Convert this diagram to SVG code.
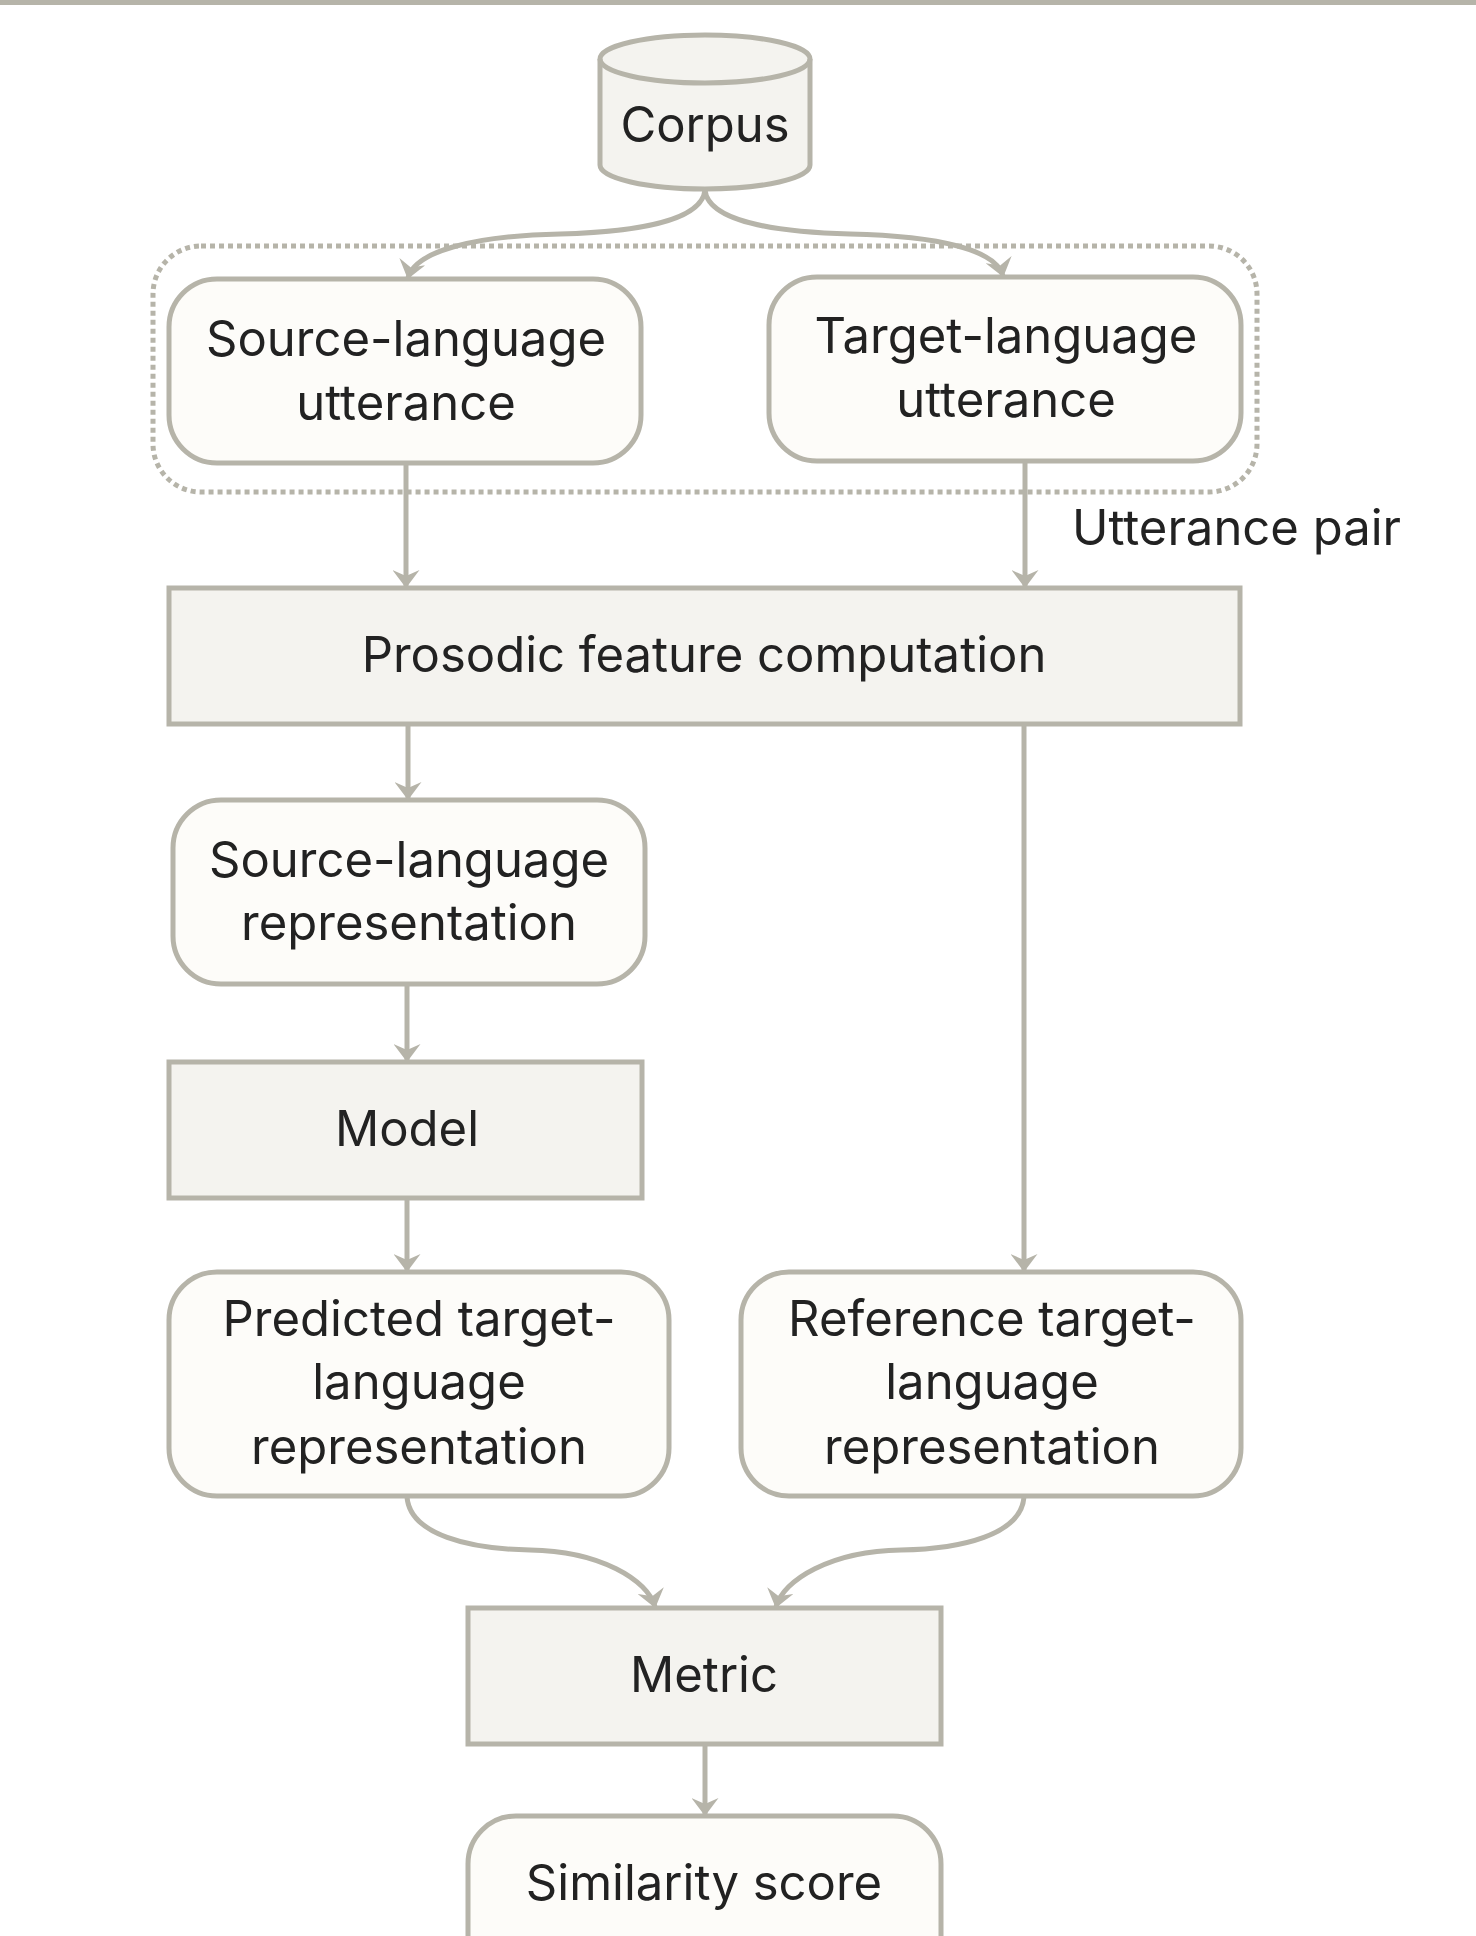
<svg xmlns="http://www.w3.org/2000/svg" width="1476" height="1936" viewBox="0 0 1476 1936">
<defs>
<style>
.box{fill:#f4f3ef;stroke:#b6b4a9;stroke-width:5}
.rbox{fill:#fdfcf9;stroke:#b6b4a9;stroke-width:5}
.edge{fill:none;stroke:#b6b4a9;stroke-width:5;marker-end:url(#arr)}
.grp{fill:none;stroke:#b6b4a9;stroke-width:5;stroke-dasharray:5 4}
text{font-family:Inter,"Noto Sans","Liberation Sans",sans-serif;font-size:49px;fill:#222;text-anchor:middle}
</style>
<marker id="arr" viewBox="0 0 18 27" refX="17" refY="13.5" markerWidth="18" markerHeight="27" markerUnits="userSpaceOnUse" orient="auto">
<path d="M0,0 L18,13.5 L0,27 L6,13.5 Z" fill="#b6b4a9"/>
</marker>
</defs>
<rect width="1476" height="1936" fill="#ffffff"/>
<rect x="0" y="0" width="1476" height="5" fill="#b6b4a9"/>

<g id="group-utterance-pair">
<rect class="grp" x="153" y="246" width="1104" height="246" rx="48"/>
<text x="1072" y="545" style="text-anchor:start">Utterance pair</text>
</g>

<g id="connectors">
<path class="edge" d="M705,190 C702,220 640,232 560,234 C470,236 415,252 408,278"/>
<path class="edge" d="M705,190 C708,220 770,232 850,234 C940,236 996,250 1003,276"/>
<path class="edge" d="M406,463 L406,587"/>
<path class="edge" d="M1025,461 L1025,587"/>
<path class="edge" d="M408,724 L408,799"/>
<path class="edge" d="M1024,724 L1024,1271"/>
<path class="edge" d="M407,984 L407,1061"/>
<path class="edge" d="M407,1198 L407,1271"/>
<path class="edge" d="M407,1497 C410,1535 470,1549 530,1550 C600,1551 648,1580 655,1607"/>
<path class="edge" d="M1024,1497 C1021,1535 961,1549 901,1550 C831,1551 783,1580 776,1607"/>
<path class="edge" d="M705,1744 L705,1815"/>
</g>

<g id="corpus">
<path class="box" d="M600,59 A105,24 0 0 1 810,59 L810,165 A105,24 0 0 1 600,165 Z"/>
<path d="M600,59 A105,24 0 0 0 810,59" fill="none" stroke="#b6b4a9" stroke-width="5"/>
<text x="705" y="142">Corpus</text>
</g>

<g id="source-utterance">
<rect class="rbox" x="169" y="279" width="472" height="184" rx="48"/>
<text x="406" y="356">Source-language</text>
<text x="406" y="420">utterance</text>
</g>

<g id="target-utterance">
<rect class="rbox" x="769" y="277" width="472" height="184" rx="48"/>
<text x="1006" y="353">Target-language</text>
<text x="1006" y="417">utterance</text>
</g>

<g id="prosodic">
<rect class="box" x="169" y="588" width="1071" height="136"/>
<text x="704" y="672">Prosodic feature computation</text>
</g>

<g id="source-representation">
<rect class="rbox" x="173" y="800" width="472" height="184" rx="48"/>
<text x="409" y="877">Source-language</text>
<text x="409" y="940">representation</text>
</g>

<g id="model">
<rect class="box" x="169" y="1062" width="473" height="136"/>
<text x="407" y="1146">Model</text>
</g>

<g id="predicted">
<rect class="rbox" x="169" y="1272" width="500" height="224" rx="48"/>
<text x="419" y="1336">Predicted target-</text>
<text x="419" y="1399">language</text>
<text x="419" y="1464">representation</text>
</g>

<g id="reference">
<rect class="rbox" x="741" y="1272" width="500" height="224" rx="48"/>
<text x="992" y="1336">Reference target-</text>
<text x="992" y="1399">language</text>
<text x="992" y="1464">representation</text>
</g>

<g id="metric">
<rect class="box" x="468" y="1608" width="473" height="136"/>
<text x="704" y="1692">Metric</text>
</g>

<g id="similarity">
<rect class="rbox" x="468" y="1816" width="473" height="184" rx="48"/>
<text x="704" y="1900">Similarity score</text>
</g>
</svg>
